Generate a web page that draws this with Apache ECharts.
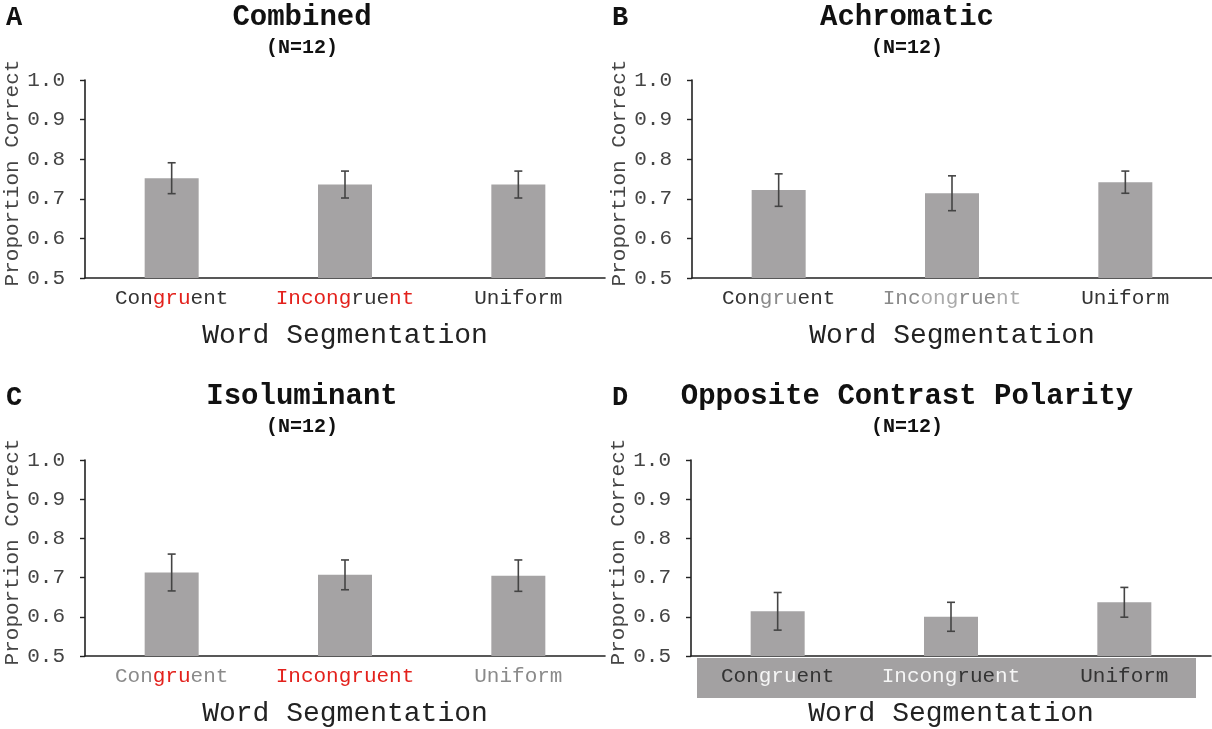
<!DOCTYPE html>
<html>
<head>
<meta charset="utf-8">
<script src="https://cdn.jsdelivr.net/npm/echarts@6/dist/echarts.min.js"></script>
<style>
  html, body { margin: 0; padding: 0; background: #fff; }
  #chart { width: 1212px; height: 729px; }
</style>
</head>
<body>
<div id="chart"></div>
<script>
// ---- data ----
const categories = ['Congruent', 'Incongruent', 'Uniform'];
const yTicks = [0.5, 0.6, 0.7, 0.8, 0.9, 1.0];

const combinedMean = [0.752, 0.736, 0.736];
const combinedErr = [0.039, 0.034, 0.034];
const achromaticMean = [0.722, 0.714, 0.742];
const achromaticErr = [0.041, 0.044, 0.028];
const isoluminantMean = [0.713, 0.707, 0.705];
const isoluminantErr = [0.047, 0.038, 0.040];
const oppositeMean = [0.614, 0.600, 0.637];
const oppositeErr = [0.048, 0.037, 0.038];

const panelTitles = ['Combined', 'Achromatic', 'Isoluminant', 'Opposite Contrast Polarity'];
const panelLetters = ['A', 'B', 'C', 'D'];
const sampleNote = '(N=12)';

// colour segments of each category label, per panel: [text, styleKey]
const segmentsA = [
  [['Con', 'k'], ['gru', 'r'], ['ent', 'k']],
  [['Inc', 'r'], ['ong', 'r'], ['rue', 'k'], ['nt', 'r']],
  [['Uniform', 'k']]
];
const segmentsB = [
  [['Con', 'k'], ['gru', 'g'], ['ent', 'k']],
  [['Inc', 'g'], ['ong', 'l'], ['rue', 'g'], ['nt', 'l']],
  [['Uniform', 'k']]
];
const segmentsC = [
  [['Con', 'g'], ['gru', 'r'], ['ent', 'g']],
  [['Inc', 'r'], ['ong', 'r'], ['rue', 'r'], ['nt', 'r']],
  [['Uniform', 'g']]
];
const segmentsD = [
  [['Con', 'k'], ['gru', 'w'], ['ent', 'k']],
  [['Inc', 'w'], ['ong', 'w'], ['rue', 'k'], ['nt', 'w']],
  [['Uniform', 'k']]
];

// ---- styling ----
const FONT = "'Courier New', 'Liberation Mono', monospace";
const BAR = '#a5a3a4';
const AXIS = '#222';
const LABEL_SIZE = 21;

function richStyles() {
  const base = { fontFamily: FONT, fontSize: LABEL_SIZE };
  return {
    k: Object.assign({ color: '#333' }, base),
    r: Object.assign({ color: '#e3211c' }, base),
    g: Object.assign({ color: '#8a8a8a' }, base),
    l: Object.assign({ color: '#ababab' }, base),
    w: Object.assign({ color: '#f6f6f6' }, base)
  };
}

function labelFormatter(segments) {
  return function (value) {
    const i = categories.indexOf(value);
    return segments[i].map(s => '{' + s[1] + '|' + s[0] + '}').join('');
  };
}

// panel layout (pixels)
const panels = [
  { left: 85, top: 80, width: 520, mean: combinedMean, err: combinedErr, seg: segmentsA, cx: 302, ty: 3, lx: 14, ly: 5 },
  { left: 692, top: 80, width: 520, mean: achromaticMean, err: achromaticErr, seg: segmentsB, cx: 907, ty: 3, lx: 620, ly: 5 },
  { left: 85, top: 460, width: 520, mean: isoluminantMean, err: isoluminantErr, seg: segmentsC, cx: 302, ty: 382, lx: 14, ly: 385 },
  { left: 691, top: 460, width: 520, mean: oppositeMean, err: oppositeErr, seg: segmentsD, cx: 907, ty: 382, lx: 620, ly: 385 }
];
const PLOT_H = 198;

function errorRenderItem(params, api) {
  const x = api.value(0), m = api.value(1), e = api.value(2);
  const hi = api.coord([x, m + e]);
  const lo = api.coord([x, m - e]);
  const cap = 4;
  const st = { stroke: '#444', lineWidth: 1.6 };
  return {
    type: 'group',
    children: [
      { type: 'line', shape: { x1: hi[0], y1: hi[1], x2: lo[0], y2: lo[1] }, style: st },
      { type: 'line', shape: { x1: hi[0] - cap, y1: hi[1], x2: hi[0] + cap, y2: hi[1] }, style: st },
      { type: 'line', shape: { x1: lo[0] - cap, y1: lo[1], x2: lo[0] + cap, y2: lo[1] }, style: st }
    ]
  };
}

const option = {
  animation: false,
  backgroundColor: '#fff',
  title: [],
  grid: [],
  xAxis: [],
  yAxis: [],
  series: [],
  graphic: []
};

panels.forEach((p, k) => {
  option.title.push({
    text: panelTitles[k],
    subtext: sampleNote,
    left: p.cx,
    top: p.ty,
    textAlign: 'center',
    itemGap: 6,
    padding: 0,
    textStyle: { fontFamily: FONT, fontWeight: 'bold', fontSize: 29, color: '#111' },
    subtextStyle: { fontFamily: FONT, fontWeight: 'bold', fontSize: 20, color: '#111' }
  });
  option.title.push({
    text: panelLetters[k],
    left: p.lx,
    top: p.ly,
    textAlign: 'center',
    padding: 0,
    textStyle: { fontFamily: FONT, fontWeight: 'bold', fontSize: 27, color: '#111' }
  });

  option.grid.push({ left: p.left, top: p.top, width: p.width, height: PLOT_H, containLabel: false });

  option.xAxis.push({
    type: 'category',
    gridIndex: k,
    data: categories,
    axisLine: { lineStyle: { color: AXIS, width: 1.6 } },
    axisTick: { show: false },
    axisLabel: {
      interval: 0,
      hideOverlap: false,
      margin: 10,
      fontFamily: FONT,
      fontSize: LABEL_SIZE,
      formatter: labelFormatter(p.seg),
      rich: richStyles()
    },
    name: 'Word Segmentation',
    nameLocation: 'middle',
    nameGap: 44,
    nameTextStyle: { fontFamily: FONT, fontSize: 28, color: '#222' }
  });

  option.yAxis.push({
    type: 'value',
    gridIndex: k,
    min: yTicks[0],
    max: yTicks[yTicks.length - 1],
    interval: 0.1,
    axisLine: { show: true, lineStyle: { color: AXIS, width: 1.6 } },
    axisTick: { show: true, length: 5, lineStyle: { color: AXIS, width: 1.4 } },
    splitLine: { show: false },
    axisLabel: {
      margin: 20,
      fontFamily: FONT,
      fontSize: LABEL_SIZE,
      color: '#444',
      formatter: v => v.toFixed(1)
    },
    name: 'Proportion Correct',
    nameLocation: 'middle',
    nameGap: 61,
    nameTextStyle: { fontFamily: FONT, fontSize: 21, color: '#444', padding: [0, 0, 0, 12] }
  });

  option.series.push({
    type: 'bar',
    xAxisIndex: k,
    yAxisIndex: k,
    data: p.mean,
    barWidth: 54,
    itemStyle: { color: BAR },
    z: 2
  });

  option.series.push({
    type: 'custom',
    xAxisIndex: k,
    yAxisIndex: k,
    renderItem: errorRenderItem,
    data: categories.map((c, i) => [i, p.mean[i], p.err[i]]),
    z: 3
  });
});

// grey band behind the category labels of the opposite-polarity panel
option.graphic.push({
  type: 'rect',
  z: -1,
  shape: { x: 697, y: 460 + PLOT_H, width: 499, height: 40 },
  style: { fill: '#a3a1a2' }
});

const chart = echarts.init(document.getElementById('chart'), null, { renderer: 'canvas' });
chart.setOption(option);
</script>
</body>
</html>
